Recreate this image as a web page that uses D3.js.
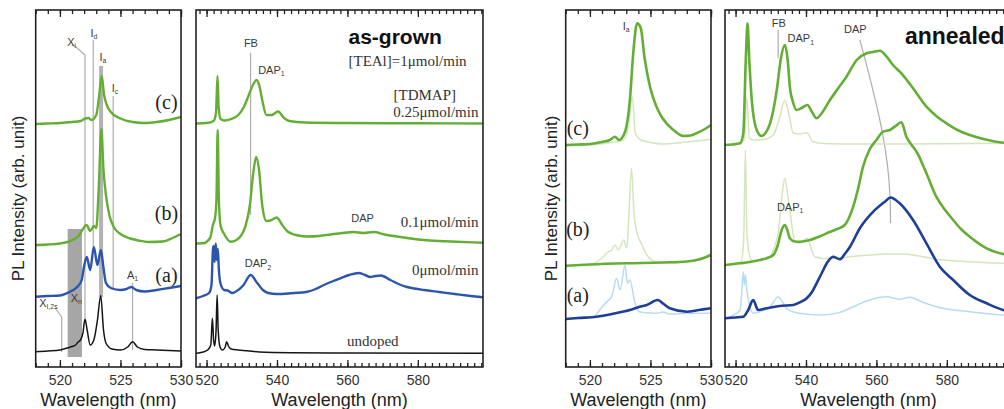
<!DOCTYPE html>
<html>
<head>
<meta charset="utf-8">
<script src="https://cdn.jsdelivr.net/npm/d3@7"></script>
<style>
  body { margin: 0; background: #fff; }
  svg { display: block; }
</style>
</head>
<body>
<svg id="chart" width="1004" height="409" font-family="'Liberation Sans', Arial, sans-serif"></svg>
<script>
// ---- axes ----
const INTENSITY_DOMAIN = [0, 357];
const NARROW_WL = [518, 530];
const WIDE_WL = [517, 598.5];
const NARROW_TICKS = [520, 525, 530];
const WIDE_TICKS = [520, 540, 560, 580];

// ---- as-grown, 518-530 nm (wavelength, intensity incl. offset) ----
const agZoomUndoped = [[518,15.3],[519,16],[520,17],[520.6,19],[521,20.5],[521.3,22],[521.5,25],[521.7,27],[521.9,34],[522.07,48],[522.25,37],[522.5,22],[522.8,27],[523.1,47],[523.37,71.5],[523.6,37],[523.8,24],[524.3,18],[525,17],[525.6,20],[526,25.3],[526.4,20],[527,17.5],[528,17],[529,16.5],[530,16]];
const agZoomA = [[518,70.3],[519,71],[520,71.5],[520.6,74],[521.1,77],[521.5,81],[521.8,87],[522,101],[522.22,110],[522.5,97],[522.8,120],[523.1,102],[523.38,117],[523.6,99],[523.8,84],[524.2,79],[525,77],[525.5,78],[525.9,80],[526.3,77],[527,75.5],[528,77],[529,79],[530,81]];
const agZoomB = [[518,122],[519,122.5],[520,123.5],[520.6,125],[521.2,128],[521.6,132],[521.9,138],[522.2,142],[522.5,136],[522.8,141],[523,139],[523.2,177],[523.42,238],[523.6,197],[523.8,172],[524.1,151],[524.5,139],[525,133],[525.8,128.5],[526.5,126.5],[527.3,125],[528.5,125.5],[529.3,129],[530,133]];
const agZoomC = [[518,243],[519,243.5],[520,244],[521,245],[521.7,246],[522.1,248.5],[522.35,249],[522.6,247],[523,252],[523.2,267],[523.45,291],[523.65,272],[523.9,261],[524.2,255],[525,248.5],[526,245],[527,244],[528,245],[529,247],[530,250]];

// ---- as-grown, full range ----
const agUndoped = [[517,13.7],[519,15],[520.3,17],[521.2,22],[521.65,48.7],[522,27],[522.3,21],[522.7,37],[523,72],[523.3,37],[523.8,20.3],[524.5,17],[525.3,20],[525.7,25.3],[526.2,21],[527,18],[529,17],[531.5,16.3],[535,15],[544,14.3],[560,14],[598.5,13.7]];
const agTdmap0 = [[517,68.7],[519,71],[520.7,74],[521.4,82],[521.8,117],[522,121],[522.3,105],[522.6,123.5],[522.9,107],[523.2,118],[523.5,97],[524,83],[525,77],[526,76.5],[527.3,74],[529,77],[530.5,82],[532.5,92],[534.4,84],[536,77],[537.5,74],[540,73],[543.8,73.7],[548.6,75.3],[551,78],[553.3,82],[556,86],[558,88.7],[560.5,92],[563.2,94],[565,92],[566.5,90],[568,91],[569.5,91.5],[572.2,87],[574.5,83],[576.9,80],[579,78.5],[581.7,77],[586,75],[591,72.7],[595,71],[598.5,69.7]];
const agTdmap01 = [[517,123.5],[519,123.7],[521,129],[521.8,142],[522.4,149],[522.8,167],[523.15,237],[523.5,167],[524,141],[525,133],[526.8,125.3],[528.5,127],[529.7,131],[531,140.3],[532.3,162],[533.3,195],[534.1,210],[534.9,197],[535.8,162],[537,146],[538.5,147],[539.9,149.5],[541.5,142],[543,135.5],[546,131.5],[548.6,130.5],[552,131],[555.2,132.5],[558.5,134],[561.8,135],[564.5,134],[567.5,135],[570.5,132.5],[574.1,130.5],[578,128.5],[581.7,127],[586,126],[591,125.3],[598.5,124.3]];
const agTdmap025 = [[517,243.5],[520,244],[522,246],[522.7,255],[523.1,291],[523.45,259],[524,248],[525,246.5],[527,248],[529,252],[530.6,260],[532,272],[533.3,283],[534.2,287],[535,281],[535.8,267],[537,252],[538.5,252],[540.3,255.5],[542,249],[543.5,246],[548,244.5],[560,244],[580,243.7],[598.5,243.5]];

// ---- annealed, 518-530 nm ----
const anZoomC = [[518,222],[519,222.5],[520,223],[521,225],[521.65,227],[522.07,230.3],[522.4,227],[522.9,235.3],[523.3,267],[523.6,317],[523.9,343.7],[524.2,339],[524.5,310.3],[524.96,280.3],[525.5,260.3],[526,248.7],[526.9,237],[527.7,231],[528.3,231.5],[528.8,233.7],[529.5,238],[530,242]];
const anZoomCRef = [[518,221.3],[520,222],[521.5,224],[522.75,227],[523.2,242],[523.5,270.3],[523.75,234],[524.2,227],[525,224.5],[526,223],[528,225],[530,227.7]];
const anZoomB = [[518,101.3],[520,102.5],[523,103.7],[526,104.5],[528,105.5],[529,107.5],[530,112]];
const anZoomBRef = [[520.3,103],[521,109],[521.5,115],[521.8,117],[522.07,122],[522.35,117],[522.8,127],[523.05,119],[523.2,147],[523.44,198.7],[523.65,152],[523.9,134],[524.3,122],[524.7,112],[525.5,105],[526.5,104],[528,105.5],[529,108],[530,113]];
const anZoomA = [[518,48],[519,49],[520.55,50.3],[522,53.5],[523.3,57],[524.1,60.3],[524.7,62],[525.6,67],[526.1,63],[526.6,58.7],[528,55.3],[529,57],[530,58.7]];
const anZoomARef = [[520.4,50.3],[521,60],[521.4,65.3],[521.8,70.3],[522.2,88.7],[522.5,77],[522.9,102],[523.1,83.7],[523.3,87],[523.7,65.3],[524.1,55.3],[525,54],[525.5,53.7],[526,55],[526.6,53],[528,53.5],[530,53.7]];

// ---- annealed, full range ----
const anC = [[517,222],[519,222.5],[521.3,223.7],[522.2,233.7],[522.9,307],[523.4,343.7],[523.9,307],[524.6,267],[526,237],[527.4,231],[528.5,234],[529.8,243.7],[531,262],[531.7,277],[532.8,307],[534,322],[534.8,307],[535.4,280.3],[536.3,265],[537.3,257],[538.8,259],[540.4,262],[541.7,255],[543,248.7],[544.5,254],[546.8,267],[549,278],[551.5,290.3],[554.4,307],[557.2,313.7],[559,315],[561,316.3],[562.9,310.3],[564.7,302],[567.1,293.7],[570.4,278.7],[574.2,260.3],[577,251],[579.9,243.7],[583,237],[586.5,232],[591,227.5],[596,224.3],[598.5,223.5]];
const anCRef = [[517,222],[521,223.5],[522.5,227],[523.2,270],[523.9,229],[525,227],[528,227.5],[530.7,232],[532.5,249],[534,267],[535.2,252],[536.4,233.7],[538.3,233],[540.2,234.3],[542,225.3],[545,223.5],[553,223],[570,223],[598.5,223.7]];
const anB = [[517,102],[521.3,103.7],[524,105],[526.9,107],[529,109],[530.7,112],[532,122],[533.1,137],[534,142],[534.7,137],[535.4,128.7],[536.8,125.5],[538.3,125.3],[541.1,127],[543.5,130],[545.9,133.7],[548.5,137.5],[551,142],[553.4,160.3],[554.7,177],[556.2,200.3],[558,217],[560,227],[561.9,235.3],[563.8,237],[565.2,240.3],[567.1,244.7],[568.5,230.3],[570,222],[571.4,215.3],[574.2,193.7],[577,170.3],[579.5,157],[581.8,147],[584,138],[586.5,130.3],[591.3,118.7],[596,113],[598.5,111.5]];
const anBRef = [[517,102],[521.5,105],[522.3,127],[522.8,217],[523.2,137],[524,111],[525,105.3],[527,107],[529.8,110.3],[531.2,122],[532.1,133.7],[533.2,172],[534,188.7],[534.8,172],[535.4,157],[536.9,125.3],[538.3,123.7],[540.2,128.7],[542.5,110.3],[545,108.5],[548.7,108.7],[553,110.5],[558.1,112],[563,113],[567.6,113],[572,111],[577,107.7],[586.5,105.3],[596,103.7],[598.5,103.5]];
const anA = [[517,48.7],[520,49.5],[522.2,50.3],[523.6,57],[525,67],[526.4,57],[528.8,58.7],[532.6,61],[536.4,62],[538.5,65],[540.2,68.7],[541.7,75],[543,83.7],[544.5,94],[545.9,103.7],[547.7,110.3],[549.6,107.7],[551,113],[552.5,120.3],[555.3,138.7],[559.1,155.3],[562.4,165.3],[564,169.5],[566.6,163.7],[570.4,147],[574.2,123.7],[578,100.3],[581.8,87],[586.5,72],[591.3,63.7],[596,57],[598.5,55]];
const anARef = [[517,48.7],[519.5,52],[521.3,57],[521.9,82],[522.2,95],[522.5,82],[522.8,92],[523.2,77],[524.1,60.3],[525,53.7],[526.9,55.3],[529.8,60.3],[531,66],[532.1,70.3],[533,67],[534.5,58.7],[538,53.7],[544,52],[549,54],[553.4,60.3],[558,67],[562.9,70.3],[566.6,67.7],[569.5,69.7],[573,65],[577,60.3],[586.5,55.3],[596,52],[598.5,51.5]];

// ---- annotations (wavelength, intensity) ----
const agZoomLines = [
  { pts: [[520.97,322],[521.33,320],[522.07,312],[522.07,49]] },
  { pts: [[522.75,327],[522.75,117]] },
  { pts: [[524.4,271],[524.4,77]] },
  { pts: [[526.0,84],[526.0,17]] },
  { pts: [[519.6,59],[520.15,50],[520.15,15]] }
];
const agZoomBand = { wl: 523.4, from: 70, to: 301 };
const agZoomBox = { wl: [520.64, 521.82], from: 10, to: 138 };
const agZoomTags = [
  ['X','i',520.97,325.5],['I','d',522.8,334],['I','a',523.55,310],['I','c',524.55,279],
  ['A','1',526.0,92],['X','n',521.35,69],['X','I,2s',519.05,64]
];
const agLines = [{ pts: [[532.5,314],[532.5,152]] }];
const agTags = [['FB','',532.6,323.7],['DAP','1',538.4,297],['DAP','',564.3,148.7],['DAP','2',534.6,103.7]];
const anZoomTags = [['I','a',523.0,341]];
const anLines = [
  { pts: [[532.1,337],[532.1,309]] },
  { pts: [[555.3,327],[558.6,283.7],[561.9,233.7],[563.3,200.3],[564.0,167],[564.0,144]], smooth: true }
];
const anTags = [['FB','',532.3,343.7],['DAP','1',538.5,328.7],['DAP','',554.0,337.7],['DAP','1',535.5,160.3]];
const sampleTags = ['(c)', '(b)', '(a)'];

const GREEN = '#64ae35', BLUE = '#2c56ae', NAVY = '#1f3f97', BLACK = '#161616';
const PALE_GREEN = '#d5e6bf', PALE_BLUE = '#b8dcf3', MARK = '#adadad';
const SERIF = "'Liberation Serif', 'Times New Roman', serif";

const TOP = 10, BOTTOM = 367;
const svg = d3.select('#chart');

const panels = [
  { left: 35.7, right: 181, domain: NARROW_WL, ticks: NARROW_TICKS, step: 1,
    series: [[agZoomUndoped, BLACK, 1.5], [agZoomA, BLUE, 2.4], [agZoomB, GREEN, 2.4], [agZoomC, GREEN, 2.4]],
    lines: agZoomLines, band: agZoomBand, box: agZoomBox, tags: agZoomTags,
    samples: [[528.8,265.3],[528.8,153.7],[528.8,92]], ylabel: 18 },
  { left: 196, right: 483, domain: WIDE_WL, ticks: WIDE_TICKS, step: 2,
    series: [[agUndoped, BLACK, 1.5], [agTdmap0, BLUE, 2.4], [agTdmap01, GREEN, 2.4], [agTdmap025, GREEN, 2.4]],
    lines: agLines, tags: agTags },
  { left: 565.7, right: 711, domain: NARROW_WL, ticks: NARROW_TICKS, step: 1,
    series: [[anZoomCRef, PALE_GREEN, 1.5], [anZoomBRef, PALE_GREEN, 1.5], [anZoomARef, PALE_BLUE, 1.5],
             [anZoomC, GREEN, 2.6], [anZoomB, GREEN, 2.6], [anZoomA, NAVY, 2.6]],
    lines: [], tags: anZoomTags, samples: [[519.0,239.3],[519.0,137.7],[519.0,72]], ylabel: 551 },
  { left: 725, right: 1012, domain: WIDE_WL, ticks: WIDE_TICKS, step: 2,
    series: [[anCRef, PALE_GREEN, 1.5], [anBRef, PALE_GREEN, 1.5], [anARef, PALE_BLUE, 1.5],
             [anC, GREEN, 2.6], [anB, GREEN, 2.6], [anA, NAVY, 2.6]],
    lines: anLines, tags: anTags }
];

function tag(g, x, y, main, sub, size) {
  const t = g.append('text')
    .attr('x', x).attr('y', y)
    .attr('text-anchor', 'middle')
    .attr('dominant-baseline', 'central')
    .attr('font-size', size)
    .attr('fill', '#3a3a3a');
  t.append('tspan').text(main);
  if (sub) t.append('tspan').attr('font-size', size * 0.62).attr('dy', size * 0.3).text(sub);
}

panels.forEach((p, i) => {
  const x = d3.scaleLinear().domain(p.domain).range([p.left, p.right]);
  const y = d3.scaleLinear().domain(INTENSITY_DOMAIN).range([BOTTOM, TOP]);
  const g = svg.append('g');

  const clipId = 'clip' + i;
  svg.append('clipPath').attr('id', clipId)
    .append('rect').attr('x', p.left).attr('y', TOP).attr('width', p.right - p.left).attr('height', BOTTOM - TOP);

  const plot = g.append('g').attr('clip-path', `url(#${clipId})`);

  if (p.box) {
    plot.append('rect')
      .attr('x', x(p.box.wl[0])).attr('width', x(p.box.wl[1]) - x(p.box.wl[0]))
      .attr('y', y(p.box.to)).attr('height', y(p.box.from) - y(p.box.to))
      .attr('fill', '#a6a6a6');
  }
  if (p.band) {
    plot.append('line')
      .attr('x1', x(p.band.wl)).attr('x2', x(p.band.wl))
      .attr('y1', y(p.band.to)).attr('y2', y(p.band.from))
      .attr('stroke', '#b3b3b3').attr('stroke-width', 4);
  }
  const straight = d3.line().x(d => x(d[0])).y(d => y(d[1]));
  const curved = d3.line().x(d => x(d[0])).y(d => y(d[1])).curve(d3.curveBasis);
  p.lines.forEach(l => {
    plot.append('path').attr('d', (l.smooth ? curved : straight)(l.pts))
      .attr('fill', 'none').attr('stroke', MARK).attr('stroke-width', 1.2);
  });

  const spectrum = d3.line().x(d => x(d[0])).y(d => y(d[1])).curve(d3.curveMonotoneX);
  p.series.forEach(([data, color, w]) => {
    plot.append('path').attr('d', spectrum(data))
      .attr('fill', 'none').attr('stroke', color).attr('stroke-width', w)
      .attr('stroke-linejoin', 'round');
  });

  // frame + ticks
  const minor = d3.range(Math.ceil(p.domain[0] / p.step) * p.step, p.domain[1] + 0.01, p.step);
  g.append('g').attr('transform', `translate(0,${BOTTOM})`)
    .call(d3.axisBottom(x).tickValues(minor).tickSize(-4).tickFormat(''))
    .call(a => a.select('.domain').remove());
  g.append('g').attr('transform', `translate(0,${TOP})`)
    .call(d3.axisTop(x).tickValues(minor).tickSize(-4).tickFormat(''))
    .call(a => a.select('.domain').remove());
  g.append('g').attr('transform', `translate(0,${TOP})`)
    .call(d3.axisTop(x).tickValues(p.ticks).tickSize(-7).tickFormat(''))
    .call(a => a.select('.domain').remove());
  const bottomAxis = g.append('g').attr('transform', `translate(0,${BOTTOM})`)
    .call(d3.axisBottom(x).tickValues(p.ticks).tickSize(-7).tickPadding(8).tickFormat(d3.format('d')));
  bottomAxis.select('.domain').remove();
  bottomAxis.attr('font-family', null);
  bottomAxis.selectAll('text').attr('font-size', 14).attr('fill', '#333');
  g.selectAll('.tick line').attr('stroke', '#222').attr('stroke-width', 1.3);

  g.append('rect').attr('x', p.left).attr('y', TOP)
    .attr('width', p.right - p.left).attr('height', BOTTOM - TOP)
    .attr('fill', 'none').attr('stroke', '#222').attr('stroke-width', 1.6);

  g.append('text').attr('x', (p.left + Math.min(p.right, 1012)) / 2).attr('y', 400)
    .attr('text-anchor', 'middle').attr('dominant-baseline', 'central')
    .attr('font-size', 18).attr('fill', '#222').text('Wavelength (nm)');

  if (p.ylabel) {
    g.append('text').attr('transform', `translate(${p.ylabel},${(TOP + BOTTOM) / 2 + 10}) rotate(-90)`)
      .attr('text-anchor', 'middle').attr('dominant-baseline', 'central')
      .attr('font-size', 17).attr('fill', '#222').text('PL Intensity (arb. unit)');
  }

  p.tags.forEach(([m, s, wl, v]) => tag(g, x(wl), y(v), m, s, 11));

  if (p.samples) {
    p.samples.forEach(([wl, v], k) => {
      g.append('text').attr('x', x(wl)).attr('y', y(v))
        .attr('text-anchor', 'middle').attr('dominant-baseline', 'central')
        .attr('font-family', SERIF)
        .attr('font-size', 20).attr('fill', '#222').text(sampleTags[k]);
    });
  }

  p.x = x; p.y = y; p.g = g;
});

// text blocks of the wide panels
const ag = panels[1], an = panels[3];
ag.g.append('text').attr('x', ag.x(560.3)).attr('y', ag.y(323))
  .attr('font-size', 21).attr('font-weight', 'bold').attr('fill', '#111').text('as-grown');
[['[TEAl]=1\u03bcmol/min', 560.3, 301, 'start'],
 ['[TDMAP]', 573.1, 267, 'start'],
 ['0.25\u03bcmol/min', 597.2, 250, 'end'],
 ['0.1\u03bcmol/min', 597.2, 140, 'end'],
 ['0\u03bcmol/min', 597.2, 92, 'end'],
 ['undoped', 567.2, 21, 'middle']].forEach(([t, wl, v, anchor]) => {
  ag.g.append('text').attr('x', ag.x(wl)).attr('y', ag.y(v))
    .attr('text-anchor', anchor).attr('font-family', SERIF)
    .attr('font-size', 15).attr('fill', '#333').text(t);
});
an.g.append('text').attr('x', an.x(568.1)).attr('y', an.y(323))
  .attr('font-size', 23).attr('font-weight', 'bold').attr('fill', '#111').text('annealed');
</script>
</body>
</html>
